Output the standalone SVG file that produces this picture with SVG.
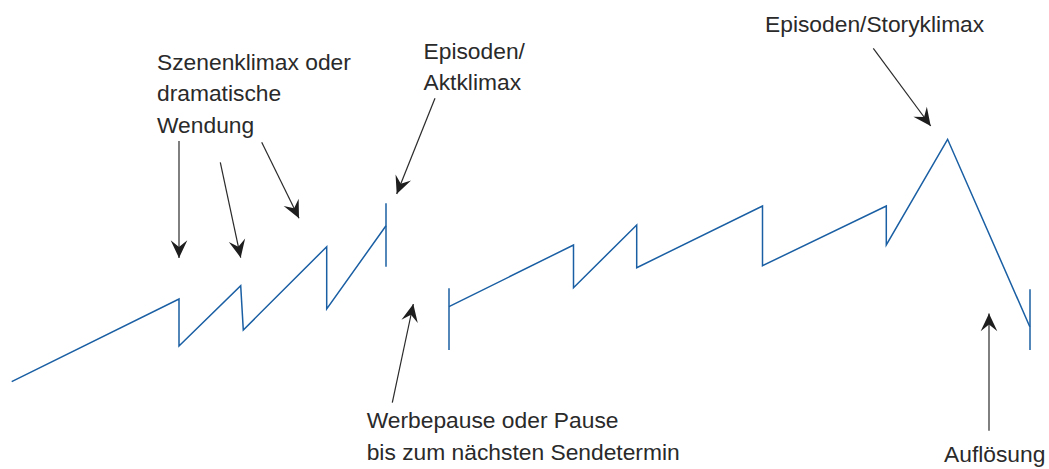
<svg xmlns="http://www.w3.org/2000/svg" width="1049" height="469" viewBox="0 0 1049 469">
  <style>
    .lbl { font-family: "Liberation Sans", Arial, sans-serif; font-size: 22.8px; fill: #2a2a2a; }
    .curve { fill: none; stroke: #1a5fa3; stroke-width: 1.5; stroke-linejoin: miter; }
    .arrow { fill: none; stroke: #2a2a2a; stroke-width: 1.2; marker-end: url(#head); }
  </style>
  <defs>
    <marker id="head" markerUnits="userSpaceOnUse" markerWidth="20" markerHeight="20" viewBox="-17 -9 18 18" refX="0" refY="0" orient="auto">
      <path d="M0,0 L-16,-7.5 L-10,0 L-16,7.5 Z" fill="#1e1e1e"/>
    </marker>
  </defs>
  <rect width="1049" height="469" fill="#ffffff"/>

  <g id="curve-part1">
    <polyline class="curve" points="11.7,381.7 179,299 179,346 240.7,285.7 243.3,330 326.7,246.7 326.7,309 386,225.7"/>
    <line class="curve" x1="386" y1="203.3" x2="386" y2="266.7"/>
  </g>
  <g id="curve-part2">
    <line class="curve" x1="449" y1="288.3" x2="449" y2="350"/>
    <polyline class="curve" points="449,306.7 573.5,245 573.5,287.7 636.7,225 636.7,267.7 762.5,206 762.5,265.7 886.3,206 886.3,245 947.6,139.3 1029.8,326.7"/>
    <line class="curve" x1="1030" y1="289.3" x2="1030" y2="350"/>
  </g>

  <g id="connectors">
    <line class="arrow" x1="179" y1="141" x2="179" y2="258"/>
    <line class="arrow" x1="220.3" y1="162.3" x2="240.7" y2="257.7"/>
    <line class="arrow" x1="261.7" y1="142.3" x2="299" y2="218.3"/>
    <line class="arrow" x1="435" y1="98.3" x2="396.7" y2="194"/>
    <line class="arrow" x1="392.3" y1="402.7" x2="413.3" y2="304"/>
    <line class="arrow" x1="873.3" y1="48.3" x2="930.7" y2="126"/>
    <line class="arrow" x1="989" y1="430.7" x2="989" y2="313.5"/>
  </g>

  <g id="label-szenenklimax">
    <text class="lbl" x="157" y="69.5">Szenenklimax oder</text>
    <text class="lbl" x="157" y="101">dramatische</text>
    <text class="lbl" x="157" y="132.5">Wendung</text>
  </g>
  <g id="label-aktklimax">
    <text class="lbl" x="423.5" y="59">Episoden/</text>
    <text class="lbl" x="423.5" y="90">Aktklimax</text>
  </g>
  <g id="label-storyklimax">
    <text class="lbl" x="765" y="31.5">Episoden/Storyklimax</text>
  </g>
  <g id="label-werbepause">
    <text class="lbl" x="366.7" y="428.3">Werbepause oder Pause</text>
    <text class="lbl" x="366.7" y="460">bis zum nächsten Sendetermin</text>
  </g>
  <g id="label-aufloesung">
    <text class="lbl" x="944" y="462">Auflösung</text>
  </g>
</svg>
